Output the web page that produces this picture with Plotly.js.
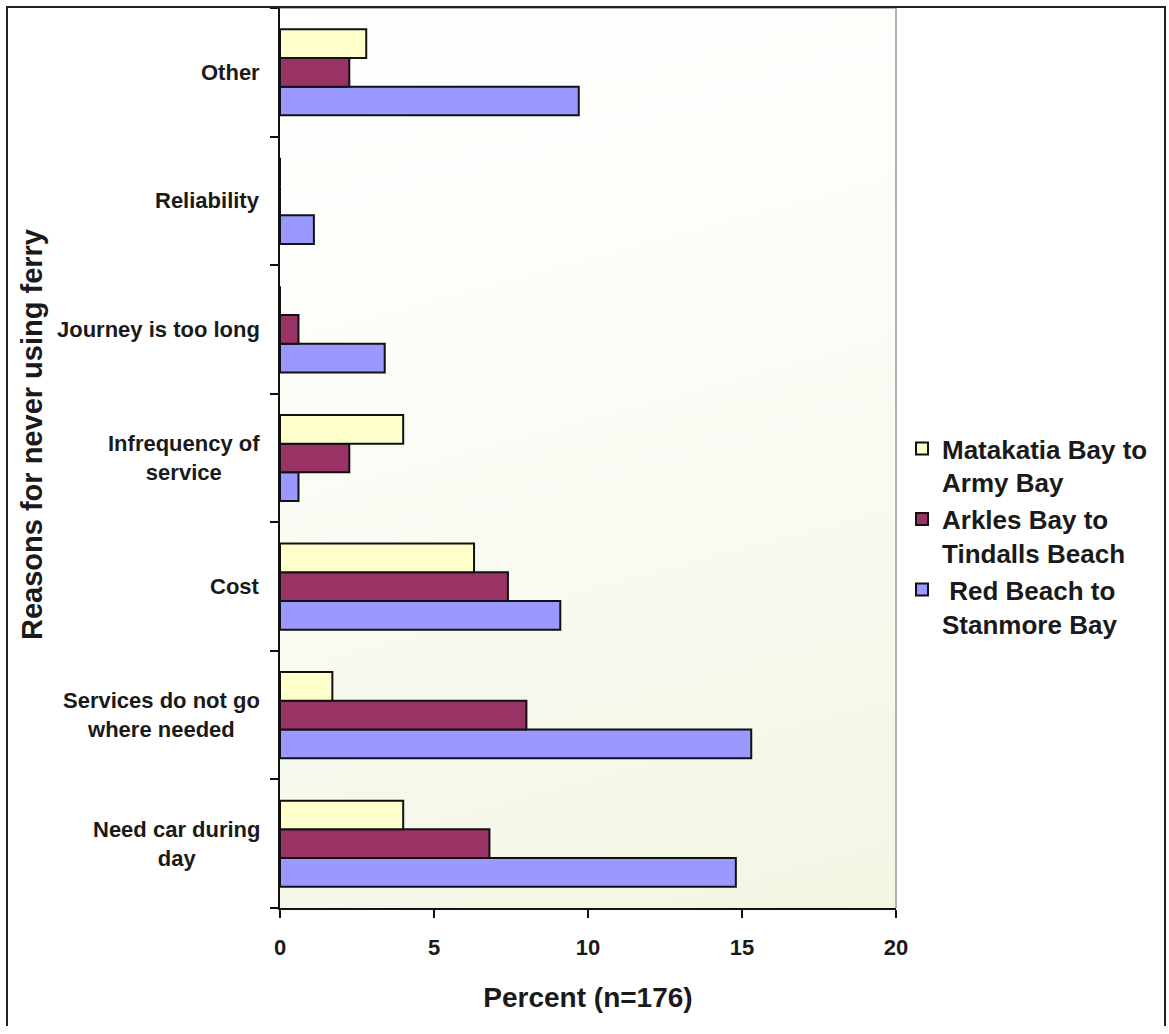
<!DOCTYPE html>
<html>
<head>
<meta charset="utf-8">
<script src="https://cdn.plot.ly/plotly-3.0.1.min.js"></script>
<style>
  html, body { margin: 0; padding: 0; background: #ffffff; }
  #wrap { position: relative; width: 1169px; height: 1034px; }
  #bg { position: absolute; left: 280px; top: 8px; width: 616px; height: 900px;
        background: linear-gradient(165deg, #ffffff 0%, #fdfdf9 30%, #f7f9ee 70%, #f2f6e2 100%); z-index: 0; }
  #chart { position: absolute; left: 0; top: 0; width: 1169px; height: 1034px; z-index: 1; }
</style>
</head>
<body>
<div id="wrap">
  <div id="bg"></div>
  <div id="chart"></div>
</div>
<script>
// Categories, bottom to top
const categories = [
  'Need car during<br>day',
  'Services do not go<br>where needed',
  'Cost',
  'Infrequency of<br>service',
  'Journey is too long',
  'Reliability',
  'Other'
];
const seriesNames = ['Matakatia Bay to<br>Army Bay', 'Arkles Bay to<br>Tindalls Beach', ' Red Beach to<br>Stanmore Bay'];
const matakatia = [4.0, 1.7, 6.3, 4.0, 0, 0, 2.8];
const arkles    = [6.8, 8.0, 7.4, 2.25, 0.6, 0, 2.25];
const redBeach  = [14.8, 15.3, 9.1, 0.6, 3.4, 1.1, 9.7];
const xTicks = [0, 5, 10, 15, 20];

const colors = ['#FFFFCC', '#993366', '#9999FF'];
const font = 'Liberation Sans, Arial, Helvetica, sans-serif';

function barTrace(name, values, color) {
  return {
    type: 'bar', orientation: 'h', name: name,
    y: categories, x: values,
    marker: { color: color, line: { color: '#111111', width: 2 } },
    hoverinfo: 'x+y'
  };
}

// Plotly places the first trace lowest in a group, so the bottom bar (blue) goes first.
const data = [
  barTrace(seriesNames[2], redBeach, colors[2]),
  barTrace(seriesNames[1], arkles, colors[1]),
  barTrace(seriesNames[0], matakatia, colors[0])
];

const L = 280, R = 896, T = 8, B = 908, W = R - L, H = B - T;
const px = v => (v - L) / W;
const py = v => (B - v) / H;

const annotations = categories.map(c => ({
  xref: 'paper', yref: 'y', x: 0, y: c, xshift: -18,
  xanchor: 'right', yanchor: 'middle', align: 'center',
  text: '<b>' + c + '</b>', showarrow: false,
  font: { family: font, size: 22, color: '#1a1a1a' }
}));
annotations.push({
  xref: 'paper', yref: 'paper', x: px(32), y: py(435),
  xanchor: 'center', yanchor: 'middle', textangle: -90,
  text: '<b>Reasons for never using ferry</b>', showarrow: false,
  font: { family: font, size: 29, color: '#1a1a1a' }
});

const layout = {
  width: 1169, height: 1034,
  margin: { l: L, r: 1169 - R, t: T, b: 1034 - B, pad: 0 },
  paper_bgcolor: 'rgba(0,0,0,0)',
  plot_bgcolor: 'rgba(0,0,0,0)',
  barmode: 'group', bargap: 0.33, bargroupgap: 0,
  showlegend: true,
  legend: {
    x: px(902), y: py(425), xanchor: 'left', yanchor: 'top',
    traceorder: 'reversed', valign: 'top',
    font: { family: font, size: 26, color: '#1a1a1a', weight: 'bold' },
    bgcolor: 'rgba(0,0,0,0)', borderwidth: 0, itemwidth: 30
  },
  xaxis: {
    range: [0, 20], tickvals: xTicks, ticktext: xTicks.map(String),
    ticks: 'outside', ticklen: 8, tickwidth: 1.5, tickcolor: '#111',
    showline: true, linecolor: '#111', linewidth: 1.5,
    showgrid: false, zeroline: false, fixedrange: true,
    ticklabelstandoff: 11,
    tickfont: { family: font, size: 22, color: '#1a1a1a', weight: 'bold' },
    title: { text: '<b>Percent (n=176)</b>', standoff: 28,
             font: { family: font, size: 28, color: '#1a1a1a' } }
  },
  yaxis: {
    type: 'category', range: [-0.5, 6.5],
    categoryorder: 'array', categoryarray: categories,
    tickson: 'boundaries', ticks: 'outside', ticklen: 8, tickwidth: 1.5, tickcolor: '#111',
    showticklabels: false,
    showline: true, linecolor: '#111', linewidth: 1.5,
    showgrid: false, zeroline: false, fixedrange: true
  },
  annotations: annotations,
  shapes: [
    { type: 'line', xref: 'paper', yref: 'paper', x0: 0, x1: 1, y0: 1, y1: 1,
      line: { color: '#9a9a9a', width: 1.5 } },
    { type: 'line', xref: 'paper', yref: 'paper', x0: 1, x1: 1, y0: 0, y1: 1,
      line: { color: '#9a9a9a', width: 1.5 } },
    { type: 'path', xref: 'paper', yref: 'paper',
      path: 'M ' + px(7) + ',' + py(1026) + ' L ' + px(7) + ',' + py(7) +
            ' L ' + px(1165) + ',' + py(7) + ' L ' + px(1165) + ',' + py(1026),
      line: { color: '#222', width: 2 } }
  ]
};

Plotly.newPlot('chart', data, layout, { displayModeBar: false });
</script>
</body>
</html>
